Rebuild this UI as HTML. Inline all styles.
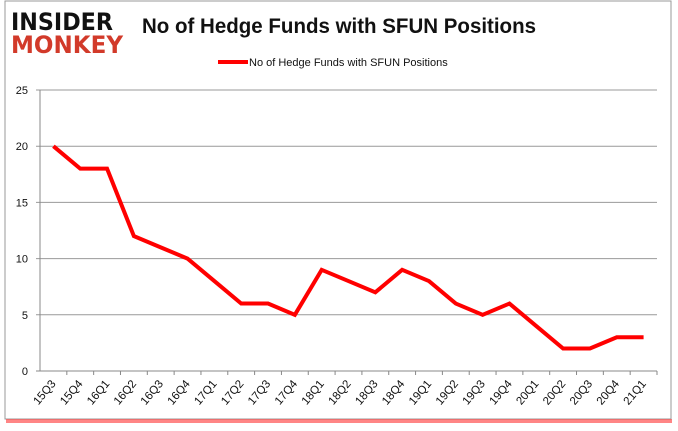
<!DOCTYPE html>
<html><head><meta charset="utf-8"><style>
body{margin:0;background:#fff;}
#wrap{position:relative;width:678px;height:431px;overflow:hidden;font-family:"Liberation Sans",sans-serif;}
</style></head><body>
<div id="wrap">
<svg id="chart" width="678" height="431">
  <rect x="5" y="1" width="666" height="418" fill="#fff" stroke="#999"/>
  <rect x="6" y="419" width="666" height="4" fill="#f33" opacity="0.6"/>
  <text x="11" y="30" font-size="24" font-weight="bold" fill="#111" font-family="'DejaVu Sans',sans-serif" textLength="102" lengthAdjust="spacingAndGlyphs">INSIDER</text>
  <text x="11" y="53" font-size="24" font-weight="bold" fill="#d23a2a" font-family="'DejaVu Sans',sans-serif" textLength="112" lengthAdjust="spacingAndGlyphs">MONKEY</text>
  <text x="142" y="33" font-size="21" font-weight="bold" fill="#111" textLength="394" lengthAdjust="spacingAndGlyphs">No of Hedge Funds with SFUN Positions</text>
  <line x1="218" y1="62" x2="248" y2="62" stroke="red" stroke-width="4"/>
  <text x="249" y="66" font-size="11" fill="#111">No of Hedge Funds with SFUN Positions</text>
  <g id="grid"></g><g id="axes"></g><g id="series"></g>
</svg>
</div>
<script>
const categories=["15Q3","15Q4","16Q1","16Q2","16Q3","16Q4","17Q1","17Q2","17Q3","17Q4","18Q1","18Q2","18Q3","18Q4","19Q1","19Q2","19Q3","19Q4","20Q1","20Q2","20Q3","20Q4","21Q1"];
const values=[20,18,18,12,11,10,8,6,6,5,9,8,7,9,8,6,5,6,4,2,2,3,3];
const yTicks=[0,5,10,15,20,25];
const NS="http://www.w3.org/2000/svg";
const x0=40,x1=657,yTop=90,yBot=371,yMax=25;
const step=(x1-x0)/categories.length;
const xs=i=>x0+step*(i+0.5);
const ys=v=>yBot-(v/yMax)*(yBot-yTop);
function mk(t,a,p){const e=document.createElementNS(NS,t);for(const k in a)e.setAttribute(k,a[k]);p.appendChild(e);return e;}
const grid=document.getElementById('grid'),axes=document.getElementById('axes'),series=document.getElementById('series');
yTicks.forEach(v=>{
  const l=mk('line',{x1:x0-4,x2:x1,y1:ys(v),y2:ys(v),stroke:v===0?'#888':'#999','stroke-width':1},grid);
  
  
  const t=mk('text',{x:x0-12,y:ys(v)+4,'font-size':11,'text-anchor':'end',fill:'#111'},axes);
  t.textContent=v;
  
  
});
const ya=mk('line',{x1:x0,x2:x0,y1:yTop,y2:yBot,stroke:'#888'},axes);


categories.forEach((c,i)=>{
  const tx=x0+step*(i+1);
  const tk=mk('line',{x1:tx,x2:tx,y1:yBot,y2:yBot+4,stroke:'#888'},axes);
  
  
  const cx=xs(i)+3,cy=yBot+13;
  const t=mk('text',{x:cx,y:cy,'font-size':11.5,'text-anchor':'end',fill:'#111',transform:`rotate(-50 ${cx} ${cy})`},axes);
  t.textContent=c;
  
  
});
const p=mk('polyline',{points:values.map((v,i)=>xs(i)+','+ys(v)).join(' '),fill:'none',stroke:'red','stroke-width':4,'stroke-linejoin':'miter'},series);


</script>
</body></html>
